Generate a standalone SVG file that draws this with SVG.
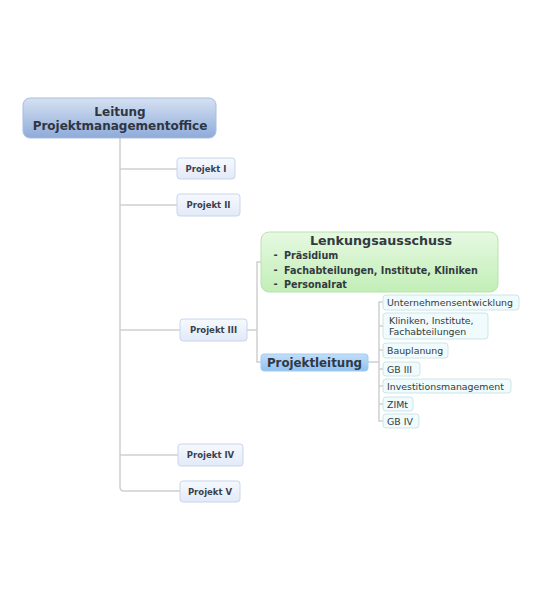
<svg xmlns="http://www.w3.org/2000/svg" width="543" height="600" viewBox="0 0 543 600">
<defs>
<linearGradient id="gRoot" x1="0" y1="0" x2="0" y2="1">
<stop offset="0" stop-color="#d6e1f2"/><stop offset="1" stop-color="#8eabd9"/>
</linearGradient>
<linearGradient id="gProj" x1="0" y1="0" x2="0" y2="1">
<stop offset="0" stop-color="#f6f9fe"/><stop offset="1" stop-color="#e2eaf8"/>
</linearGradient>
<linearGradient id="gLenk" x1="0" y1="0" x2="0" y2="1">
<stop offset="0" stop-color="#e6f9e2"/><stop offset="1" stop-color="#c2eeb6"/>
</linearGradient>
<linearGradient id="gPL" x1="0" y1="0" x2="0" y2="1">
<stop offset="0" stop-color="#c3def8"/><stop offset="1" stop-color="#8fc1f0"/>
</linearGradient>
</defs>
<style>
.con{fill:none;stroke:#cfcfcf;stroke-width:1.5}
.proj{fill:url(#gProj);stroke:#c9d5ea;stroke-width:1}
.pt{font-family:"DejaVu Sans",Verdana,sans-serif;font-weight:bold;font-size:8.5px;fill:#3a404c;text-anchor:middle}
.leaf{fill:#effbfc;stroke:#cfe5e5;stroke-width:1}
.lt{font-family:"DejaVu Sans",Verdana,sans-serif;font-size:9.4px;fill:#333a40}
.bt{font-family:"DejaVu Sans",Verdana,sans-serif;font-weight:bold;font-size:9.6px;fill:#333a40}
.dash{font-family:"DejaVu Sans",Verdana,sans-serif;font-weight:bold;font-size:10px;fill:#333a40}
</style>
<rect width="543" height="600" fill="#ffffff"/>
<g id="connectors">
<path class="con" d="M120 138 V487 Q120 491 124 491 H180"/>
<path class="con" d="M120 169 H177"/>
<path class="con" d="M120 205 H177"/>
<path class="con" d="M120 330 H180"/>
<path class="con" d="M120 455 H178"/>
<path class="con" d="M247 330 H257"/>
<path class="con" d="M261 262 H257 V362 H261"/>
<path class="con" d="M368 362 H379"/>
<path class="con" d="M383 302 H379 V421 H383"/>
<path class="con" d="M379 326 H383"/>
<path class="con" d="M379 350 H383"/>
<path class="con" d="M379 369 H383"/>
<path class="con" d="M379 386 H383"/>
<path class="con" d="M379 404 H383"/>
</g>
<g id="root">
<rect x="23" y="98" width="193" height="40" rx="7" fill="url(#gRoot)" stroke="#a9bde0" stroke-width="1"/>
<text x="120" y="116" font-family="DejaVu Sans,Verdana,sans-serif" font-weight="bold" font-size="12px" fill="#2f3642" text-anchor="middle">Leitung</text>
<text x="120" y="130" font-family="DejaVu Sans,Verdana,sans-serif" font-weight="bold" font-size="12px" fill="#2f3642" text-anchor="middle">Projektmanagementoffice</text>
</g>
<g id="projekt1"><rect class="proj" x="177" y="158" width="58" height="21" rx="3"/><text class="pt" x="206" y="171.5">Projekt I</text></g>
<g id="projekt2"><rect class="proj" x="177" y="194" width="63" height="22" rx="3"/><text class="pt" x="208.5" y="208">Projekt II</text></g>
<g id="projekt3"><rect class="proj" x="180" y="319" width="67" height="22" rx="3"/><text class="pt" x="213.5" y="333">Projekt III</text></g>
<g id="projekt4"><rect class="proj" x="178" y="444" width="65" height="22" rx="3"/><text class="pt" x="210.5" y="458">Projekt IV</text></g>
<g id="projekt5"><rect class="proj" x="180" y="481" width="60" height="21" rx="3"/><text class="pt" x="210" y="494.5">Projekt V</text></g>
<g id="lenkungsausschuss">
<rect x="261" y="232" width="237" height="60" rx="8" fill="url(#gLenk)" stroke="#b8e3ad" stroke-width="1"/>
<text x="381" y="244.5" font-family="DejaVu Sans,Verdana,sans-serif" font-weight="bold" font-size="12.7px" fill="#333a40" text-anchor="middle">Lenkungsausschuss</text>
<text class="dash" x="273.5" y="257.5">-</text><text class="bt" x="284" y="259">Präsidium</text>
<text class="dash" x="273.5" y="272.5">-</text><text class="bt" x="284" y="274">Fachabteilungen, Institute, Kliniken</text>
<text class="dash" x="273.5" y="286.5">-</text><text class="bt" x="284" y="288">Personalrat</text>
</g>
<g id="projektleitung">
<rect x="261" y="354" width="107" height="17" rx="3" fill="url(#gPL)" stroke="#a4cbef" stroke-width="1"/>
<text x="314.5" y="367" font-family="DejaVu Sans,Verdana,sans-serif" font-weight="bold" font-size="11.8px" fill="#2e3846" text-anchor="middle">Projektleitung</text>
</g>
<g id="unternehmensentwicklung"><rect class="leaf" x="383" y="295" width="136" height="15" rx="3"/><text class="lt" x="387" y="305.5">Unternehmensentwicklung</text></g>
<g id="kliniken"><rect class="leaf" x="383" y="313" width="105" height="26" rx="3"/><text class="lt" x="389" y="324">Kliniken, Institute,</text><text class="lt" x="389" y="335">Fachabteilungen</text></g>
<g id="bauplanung"><rect class="leaf" x="383" y="343" width="65" height="15" rx="3"/><text class="lt" x="387" y="353.5">Bauplanung</text></g>
<g id="gb3"><rect class="leaf" x="383" y="362" width="37" height="14" rx="3"/><text class="lt" x="387" y="372.5">GB III</text></g>
<g id="investitionsmanagement"><rect class="leaf" x="383" y="379" width="128" height="14" rx="3"/><text class="lt" x="387" y="389.5">Investitionsmanagement</text></g>
<g id="zimt"><rect class="leaf" x="383" y="397" width="30" height="14" rx="3"/><text class="lt" x="387" y="407.5">ZIMt</text></g>
<g id="gb4"><rect class="leaf" x="383" y="414" width="36" height="14" rx="3"/><text class="lt" x="387" y="424.5">GB IV</text></g>
</svg>
